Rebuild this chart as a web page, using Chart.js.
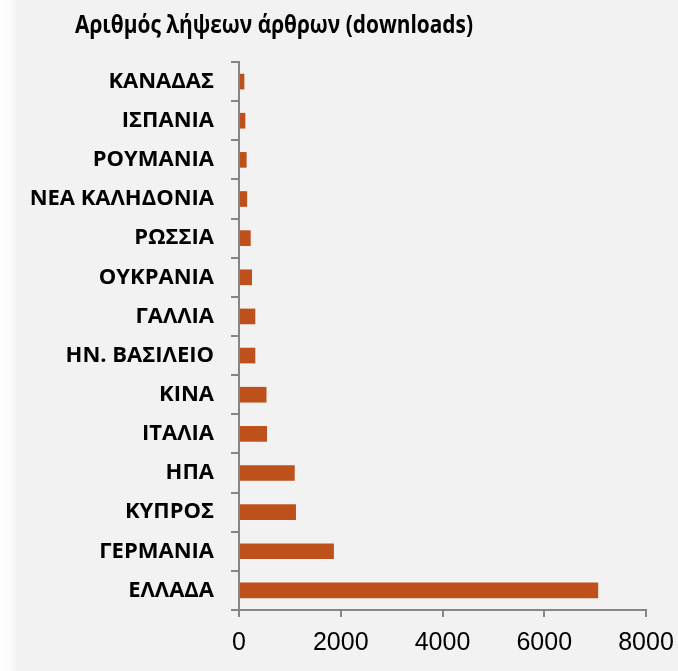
<!DOCTYPE html>
<html>
<head>
<meta charset="utf-8">
<script src="https://cdn.jsdelivr.net/npm/chart.js@4.4.0/dist/chart.umd.min.js"></script>
<style>
  html, body { margin: 0; padding: 0; }
  body {
    width: 678px; height: 671px; overflow: hidden;
    background: linear-gradient(to right, #ffffff 0px, #fbfbfb 10px, #f2f2f2 18px);
  }
  #wrap { position: relative; width: 678px; height: 671px; }
</style>
</head>
<body>
<div id="wrap"><canvas id="downloads"></canvas></div>
<script>
// dati (dall'alto verso il basso)
var countries = ['ΚΑΝΑΔΑΣ', 'ΙΣΠΑΝΙΑ', 'ΡΟΥΜΑΝΙΑ', 'ΝΕΑ ΚΑΛΗΔΟΝΙΑ', 'ΡΩΣΣΙΑ', 'ΟΥΚΡΑΝΙΑ', 'ΓΑΛΛΙΑ',
  'ΗΝ. ΒΑΣΙΛΕΙΟ', 'ΚΙΝΑ', 'ΙΤΑΛΙΑ', 'ΗΠΑ', 'ΚΥΠΡΟΣ', 'ΓΕΡΜΑΝΙΑ', 'ΕΛΛΑΔΑ'];
var downloads = [105, 125, 150, 160, 230, 255, 320, 320, 540, 550, 1095, 1120, 1865, 7060];
var xTicks = [0, 2000, 4000, 6000, 8000];
var chartTitle = 'Αριθμός λήψεων άρθρων (downloads)';

var axisGray = '#868686';
var barColor = '#be501b';

// titolo disegnato a mano: in Excel e' centrato sull'area del grafico originale
var titlePlugin = {
  id: 'excelTitle',
  afterDraw: function(chart) {
    var ctx = chart.ctx;
    ctx.save();
    ctx.font = 'bold 25px "Open Sans"';
    ctx.fillStyle = '#000';
    ctx.textAlign = 'center';
    ctx.textBaseline = 'alphabetic';
    // Calibri e' piu' stretto: comprimo in orizzontale per avere la stessa larghezza
    var w = ctx.measureText(chartTitle).width;
    var sx = Math.min(1, 398 / w);
    ctx.translate(274, 33);
    ctx.scale(sx, 1);
    ctx.fillText(chartTitle, 0, 0);
    ctx.restore();
  }
};

function printBarGraph() {
  var ctx = document.getElementById('downloads');
  new Chart(ctx, {
    type: 'bar',
    data: {
      labels: countries,
      datasets: [{
        label: chartTitle,
        data: downloads,
        backgroundColor: barColor,
        borderWidth: 0,
        barPercentage: 0.4,
        categoryPercentage: 1
      }]
    },
    options: {
      indexAxis: 'y',
      responsive: true,
      maintainAspectRatio: false,
      animation: false,
      layout: { padding: { top: 62, right: 0, bottom: 1, left: 0 } },
      plugins: {
        legend: { display: false },
        title: { display: false },
        tooltip: { enabled: false }
      },
      scales: {
        x: {
          min: 0,
          max: 8000,
          afterBuildTicks: function(scale) {
            scale.ticks = xTicks.map(function(v) { return { value: v }; });
          },
          afterFit: function(scale) { scale.paddingRight = 32; },
          grid: { drawOnChartArea: false, color: axisGray, lineWidth: 2, tickLength: 7 },
          border: { color: axisGray, width: 2 },
          ticks: {
            color: '#000',
            padding: 14,
            font: { family: '"Liberation Sans", Arial', size: 25, lineHeight: 1 },
            callback: function(value) { return String(value); }
          }
        },
        y: {
          afterFit: function(scale) { scale.width = 239; },
          grid: { drawOnChartArea: false, color: axisGray, lineWidth: 2, tickLength: 8, offset: true },
          border: { color: axisGray, width: 2 },
          ticks: {
            color: '#000',
            padding: 17,
            font: { family: '"Open Sans"', size: 22, weight: 'bold' }
          }
        }
      }
    },
    plugins: [titlePlugin]
  });
}

function init() {
  printBarGraph();
}

init();
</script>
</body>
</html>
